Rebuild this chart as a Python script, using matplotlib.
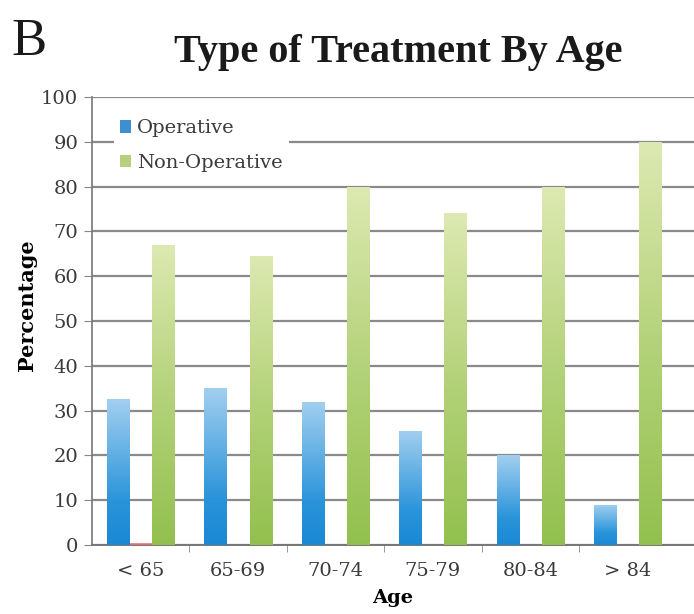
import numpy as np
import matplotlib
matplotlib.use("Agg")
import matplotlib.pyplot as plt
from matplotlib.colors import LinearSegmentedColormap
from matplotlib.patches import Patch

categories = ["< 65", "65-69", "70-74", "75-79", "80-84", "> 84"]
operative = [32.5, 35, 32, 25.5, 20, 9]
other = [0.4, 0, 0, 0, 0, 0]
non_operative = [67, 64.5, 80, 74, 80, 90]
yticks = list(range(0, 101, 10))

plt.rcParams["font.family"] = ["DejaVu Serif", "Liberation Serif"]

fig = plt.figure(figsize=(6.94, 6.14), dpi=100)
ax = fig.add_axes([0.1326, 0.1124, 0.8674, 0.7296])

x = np.arange(len(categories))
w = 0.23
step = 0.232

blue_cmap = LinearSegmentedColormap.from_list(
    "blue", [(0, "#1a88d4"), (0.3, "#2a94da"), (1, "#a2cff0")])
green_cmap = LinearSegmentedColormap.from_list(
    "green", [(0, "#92c04e"), (0.5, "#b4d27a"), (1, "#dde9b2")])
red_cmap = LinearSegmentedColormap.from_list("red", ["#e05a5a", "#f0a0a0"])

grad = np.linspace(0, 1, 256).reshape(-1, 1)


def gradient_bars(xpos, vals, cmap, zorder=3):
    bars = ax.bar(xpos, vals, w, color="none", edgecolor="none", zorder=zorder)
    for b in bars:
        h = b.get_height()
        if h <= 0:
            continue
        x0 = b.get_x()
        im = ax.imshow(grad, cmap=cmap, origin="lower", aspect="auto",
                       extent=(x0, x0 + b.get_width(), 0, h), zorder=zorder,
                       interpolation="bilinear")
        im.set_clip_path(b)
    return bars


gradient_bars(x - step, operative, blue_cmap)
gradient_bars(x, other, red_cmap)
gradient_bars(x + step, non_operative, green_cmap)

ax.set_xlim(-0.5, 5.68)
ax.set_ylim(0, 100)
ax.set_yticks(yticks)
ax.set_yticklabels([str(t) for t in yticks], fontsize=14, color="#3a3a3a")
ax.set_xticks(x)
ax.set_xticklabels(categories, fontsize=14, color="#3a3a3a")
ax.set_xticks(np.arange(len(categories) - 1) + 0.5, minor=True)
ax.tick_params(axis="x", which="major", length=0, pad=12)
ax.tick_params(axis="x", which="minor", length=5, color="#888888", direction="out")
ax.tick_params(axis="y", length=6, color="#888888", direction="out", pad=4)

ax.yaxis.grid(True, color="#8a8a8a", linewidth=1.6, zorder=1)
ax.set_axisbelow(True)
for s in ["top", "right"]:
    ax.spines[s].set_visible(False)
ax.spines["left"].set_color("#777777")
ax.spines["bottom"].set_color("#777777")
ax.spines["left"].set_linewidth(1.2)
ax.spines["bottom"].set_linewidth(1.4)

ax.set_ylabel("Percentage", fontsize=15, fontweight="bold")
ax.yaxis.set_label_coords(-0.092, 0.535)
ax.set_xlabel("Age", fontsize=14, fontweight="bold")
ax.xaxis.set_label_coords(0.5, -0.098)

handles = [Patch(facecolor="#3d8fd0", label="Operative"),
           Patch(facecolor="#b6d07c", label="Non-Operative")]
leg = ax.legend(handles=handles, loc="upper left", bbox_to_anchor=(0.02, 0.985),
                fontsize=14, frameon=True, handlelength=0.6, handleheight=0.6,
                handletextpad=0.3, borderpad=0.3, labelspacing=0.85)
leg.get_frame().set_facecolor("white")
leg.get_frame().set_edgecolor("none")
leg.get_frame().set_alpha(1)
for t in leg.get_texts():
    t.set_color("#3a3a3a")

fig.text(0.574, 0.915, "Type of Treatment By Age", fontsize=29, fontweight="bold",
         ha="center", va="center", color="#1a1a1a", family="Liberation Serif")
fig.text(0.017, 0.932, "B", fontsize=38, ha="left", va="center", color="#1a1a1a",
         family="Liberation Serif")

fig.savefig("out.png", dpi=100)
